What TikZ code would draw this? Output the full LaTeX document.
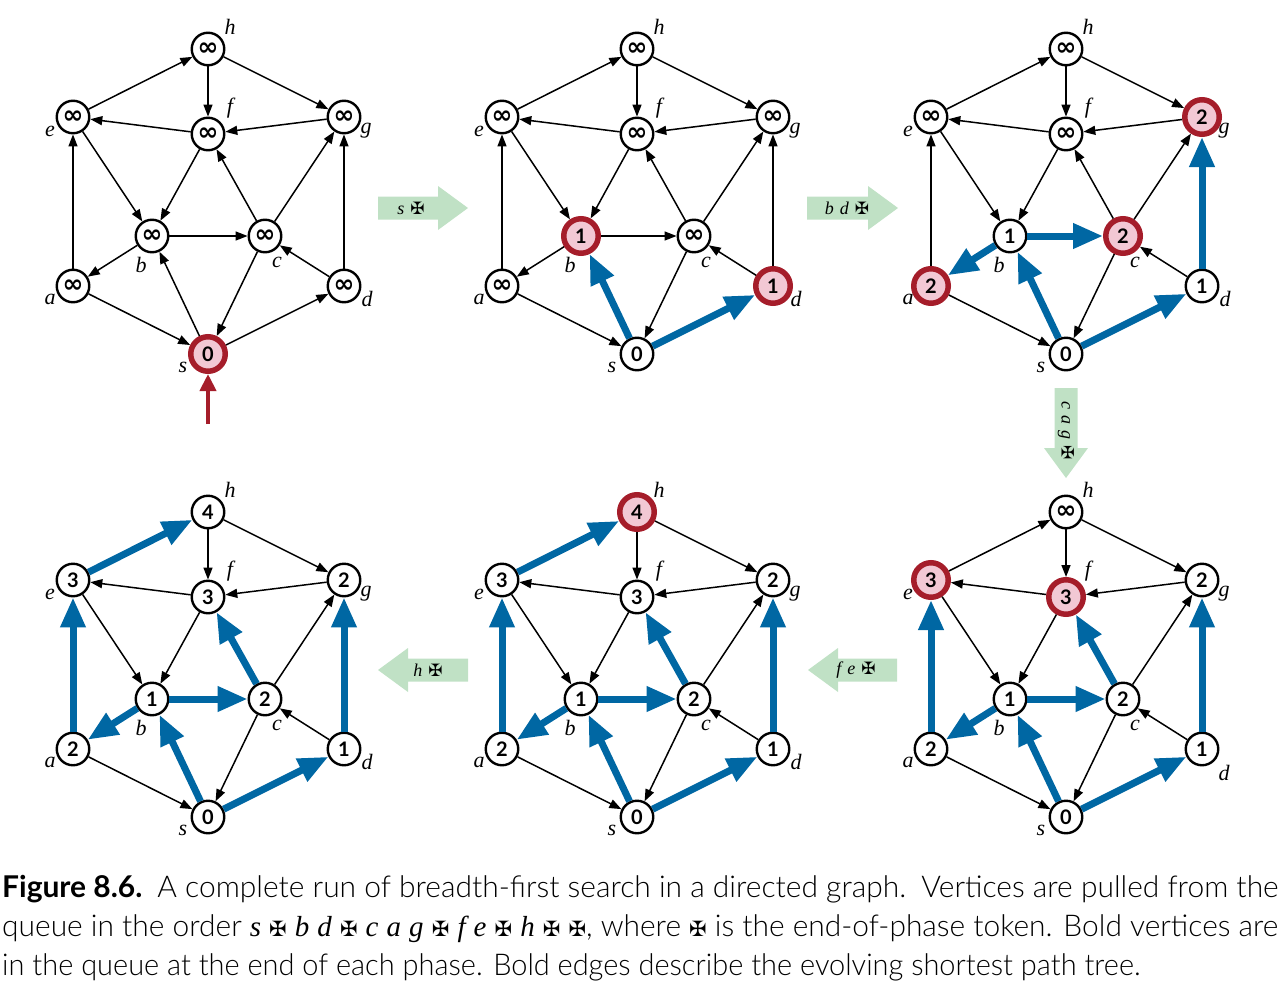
\documentclass[tikz,border=0pt]{standalone}
\usepackage{fontspec}
\setsansfont{Lato}
\newfontfamily\capfont{Lato Light}[BoldFont={Lato Bold}]
\newfontfamily\djv{DejaVu Sans}
\newfontfamily\itf{Liberation Serif}
\usetikzlibrary{arrows.meta}
\definecolor{qred}{RGB}{165,29,42}
\definecolor{qpink}{RGB}{242,200,212}
\definecolor{tblue}{RGB}{0,103,163}
\definecolor{pgreen}{RGB}{192,225,197}
\newcommand\inff{{\djv\bfseries\fontsize{25}{25}\selectfont ∞}}
\newcommand\mx{{\djv\upshape\fontsize{17}{17}\selectfont ✠}}
\newcommand\mxc{{\djv\upshape\fontsize{21}{21}\selectfont ✠}}
\newcommand\ci[1]{{\itf\itshape\fontsize{29}{36}\selectfont #1}}
\newcommand\gapp{\hspace{6pt}}
\newcommand\basepos{%
\coordinate (Ph) at (208,49);  \coordinate (Lh) at (230,27);
\coordinate (Pe) at (73,117);  \coordinate (Le) at (50,131);
\coordinate (Pf) at (208,134); \coordinate (Lf) at (230,108);
\coordinate (Pg) at (344,117); \coordinate (Lg) at (366,131);
\coordinate (Pb) at (152,236); \coordinate (Lb) at (141,265);
\coordinate (Pc) at (265,236); \coordinate (Lc) at (277,262);
\coordinate (Pa) at (73,286);  \coordinate (La) at (50,299);
\coordinate (Pd) at (344,286); \coordinate (Ld) at (367,299);
\coordinate (Ps) at (208,354); \coordinate (Ls) at (183,367);
}
\tikzset{
 vtx/.style={circle,draw=black,line width=2.4pt,fill=white,minimum size=32.5pt,inner sep=0pt,
   font=\sffamily\bfseries\fontsize{20}{20}\selectfont},
 rvtx/.style={vtx,draw=qred,fill=qpink,line width=5.5pt,minimum size=34.5pt},
 nlab/.style={inner sep=0pt,font=\itf\itshape\fontsize{22}{22}\selectfont},
 thinedge/.style={line width=1.5pt,-{Triangle[length=12pt,width=9pt]}},
 boldedge/.style={line width=7pt,draw=tblue,-{Triangle[length=30pt,width=24pt]}},
 entryarr/.style={line width=4pt,draw=qred,-{Triangle[length=17pt,width=16pt]}},
 phasearr/.style={fill=pgreen},
 ptext/.style={inner sep=0pt,font=\itf\itshape\fontsize{18}{18}\selectfont},
 captext/.style={inner sep=0pt,anchor=base west,font=\capfont\fontsize{30}{36}\selectfont},
}
\begin{document}
\begin{tikzpicture}[x=1pt,y=-1pt]
\useasboundingbox (0,0) rectangle (1282,982);

% ---------- graph 1
\begin{scope}
\basepos
\foreach \n/\v/\st in {h/\inff/vtx,e/\inff/vtx,f/\inff/vtx,g/\inff/vtx,b/\inff/vtx,c/\inff/vtx,a/\inff/vtx,d/\inff/vtx,s/0/rvtx}
 {\node[\st] (A\n) at (P\n) {\v}; \node[nlab] (Al\n) at (L\n) {\n};}
\coordinate (Ain) at (208,424);
\end{scope}
\foreach \u/\w in {h/f,h/g,e/h,f/e,g/f,e/b,f/b,c/f,c/g,b/c,b/a,a/e,d/g,d/c,c/s,s/b,a/s,s/d}
 \draw[thinedge] (A\u) -- (A\w);
\draw[entryarr] (Ain) -- (As);

% ---------- graph 2
\begin{scope}[shift={(429,0)}]
\basepos
\foreach \n/\v/\st in {h/\inff/vtx,e/\inff/vtx,f/\inff/vtx,g/\inff/vtx,b/1/rvtx,c/\inff/vtx,a/\inff/vtx,d/1/rvtx,s/0/vtx}
 {\node[\st] (B\n) at (P\n) {\v}; \node[nlab] (Bl\n) at (L\n) {\n};}
\end{scope}
\foreach \u/\w in {h/f,h/g,e/h,f/e,g/f,e/b,f/b,c/f,c/g,b/c,b/a,a/e,d/g,d/c,c/s,a/s}
 \draw[thinedge] (B\u) -- (B\w);
\foreach \u/\w in {s/b,s/d}
 \draw[boldedge] (B\u) -- (B\w);

% ---------- graph 3
\begin{scope}[shift={(858,0)}]
\basepos
\foreach \n/\v/\st in {h/\inff/vtx,e/\inff/vtx,f/\inff/vtx,g/2/rvtx,b/1/vtx,c/2/rvtx,a/2/rvtx,d/1/vtx,s/0/vtx}
 {\node[\st] (C\n) at (P\n) {\v}; \node[nlab] (Cl\n) at (L\n) {\n};}
\end{scope}
\foreach \u/\w in {h/f,h/g,e/h,f/e,g/f,e/b,f/b,c/f,c/g,a/e,d/c,c/s,a/s}
 \draw[thinedge] (C\u) -- (C\w);
\foreach \u/\w in {s/b,s/d,b/a,b/c,d/g}
 \draw[boldedge] (C\u) -- (C\w);

% ---------- graph 4
\begin{scope}[shift={(858,463)}]
\basepos
\foreach \n/\v/\st in {h/\inff/vtx,e/3/rvtx,f/3/rvtx,g/2/vtx,b/1/vtx,c/2/vtx,a/2/vtx,d/1/vtx,s/0/vtx}
 {\node[\st] (D\n) at (P\n) {\v};}
\foreach \n in {h,e,f,g,b,c,a,s}
 {\node[nlab] (Dl\n) at (L\n) {\n};}
\node[nlab] (Dld) at (366,310) {d};
\end{scope}
\foreach \u/\w in {h/f,h/g,e/h,f/e,g/f,e/b,f/b,c/g,d/c,c/s,a/s}
 \draw[thinedge] (D\u) -- (D\w);
\foreach \u/\w in {s/b,s/d,b/a,b/c,d/g,c/f,a/e}
 \draw[boldedge] (D\u) -- (D\w);

% ---------- graph 5
\begin{scope}[shift={(429,463)}]
\basepos
\foreach \n/\v/\st in {h/4/rvtx,e/3/vtx,f/3/vtx,g/2/vtx,b/1/vtx,c/2/vtx,a/2/vtx,d/1/vtx,s/0/vtx}
 {\node[\st] (E\n) at (P\n) {\v}; \node[nlab] (El\n) at (L\n) {\n};}
\end{scope}
\foreach \u/\w in {h/f,h/g,f/e,g/f,e/b,f/b,c/g,d/c,c/s,a/s}
 \draw[thinedge] (E\u) -- (E\w);
\foreach \u/\w in {s/b,s/d,b/a,b/c,d/g,c/f,a/e,e/h}
 \draw[boldedge] (E\u) -- (E\w);

% ---------- graph 6
\begin{scope}[shift={(0,463)}]
\basepos
\foreach \n/\v/\st in {h/4/vtx,e/3/vtx,f/3/vtx,g/2/vtx,b/1/vtx,c/2/vtx,a/2/vtx,d/1/vtx,s/0/vtx}
 {\node[\st] (F\n) at (P\n) {\v}; \node[nlab] (Fl\n) at (L\n) {\n};}
\end{scope}
\foreach \u/\w in {h/f,h/g,f/e,g/f,e/b,f/b,c/g,d/c,c/s,a/s}
 \draw[thinedge] (F\u) -- (F\w);
\foreach \u/\w in {s/b,s/d,b/a,b/c,d/g,c/f,a/e,e/h}
 \draw[boldedge] (F\u) -- (F\w);

% ---------- phase arrows
\fill[phasearr] (378,196.5) -- (438,196.5) -- (438,186) -- (468,208) -- (438,230) -- (438,219.5) -- (378,219.5) -- cycle;
\node[ptext] (ph1) at (411,208) {s\gapp\mx};
\fill[phasearr] (807,196.5) -- (868,196.5) -- (868,186) -- (898,208) -- (868,230) -- (868,219.5) -- (807,219.5) -- cycle;
\node[ptext] (ph2) at (847,208) {b\gapp d\gapp\mx};
\fill[phasearr] (1054.5,388) -- (1054.5,448) -- (1044,448) -- (1066,478) -- (1088,448) -- (1077.5,448) -- (1077.5,388) -- cycle;
\node[ptext,rotate=-90] (ph3) at (1066,431) {c\gapp a\gapp g\gapp\mx};
\fill[phasearr] (897,658.5) -- (838,658.5) -- (838,648) -- (808,670) -- (838,692) -- (838,681.5) -- (897,681.5) -- cycle;
\node[ptext] (ph4) at (856,670) {f\gapp e\gapp\mx};
\fill[phasearr] (468,658.5) -- (408,658.5) -- (408,648) -- (378,670) -- (408,692) -- (408,681.5) -- (468,681.5) -- cycle;
\node[ptext] (ph5) at (428,670) {h\gapp\mx};

% ---------- caption
\node[captext] (cap1) at (2,897) {\resizebox{1276pt}{\height}{\textbf{Figure 8.6.}\enspace A complete run of breadth-first search in a directed graph.\enspace Vertices are pulled from the}};
\node[captext] (cap2) at (2,936) {\resizebox{1276pt}{\height}{queue in the order \ci{s} \mxc{} \ci{b} \ci{d} \mxc{} \ci{c} \ci{a} \ci{g} \mxc{} \ci{f} \ci{e} \mxc{} \ci{h} \mxc{} \mxc, where \mxc{} is the end-of-phase token. Bold vertices are}};
\node[captext] (cap3) at (2,975) {\resizebox{1138pt}{\height}{in the queue at the end of each phase. Bold edges describe the evolving shortest path tree.}};
\end{tikzpicture}
\end{document}
